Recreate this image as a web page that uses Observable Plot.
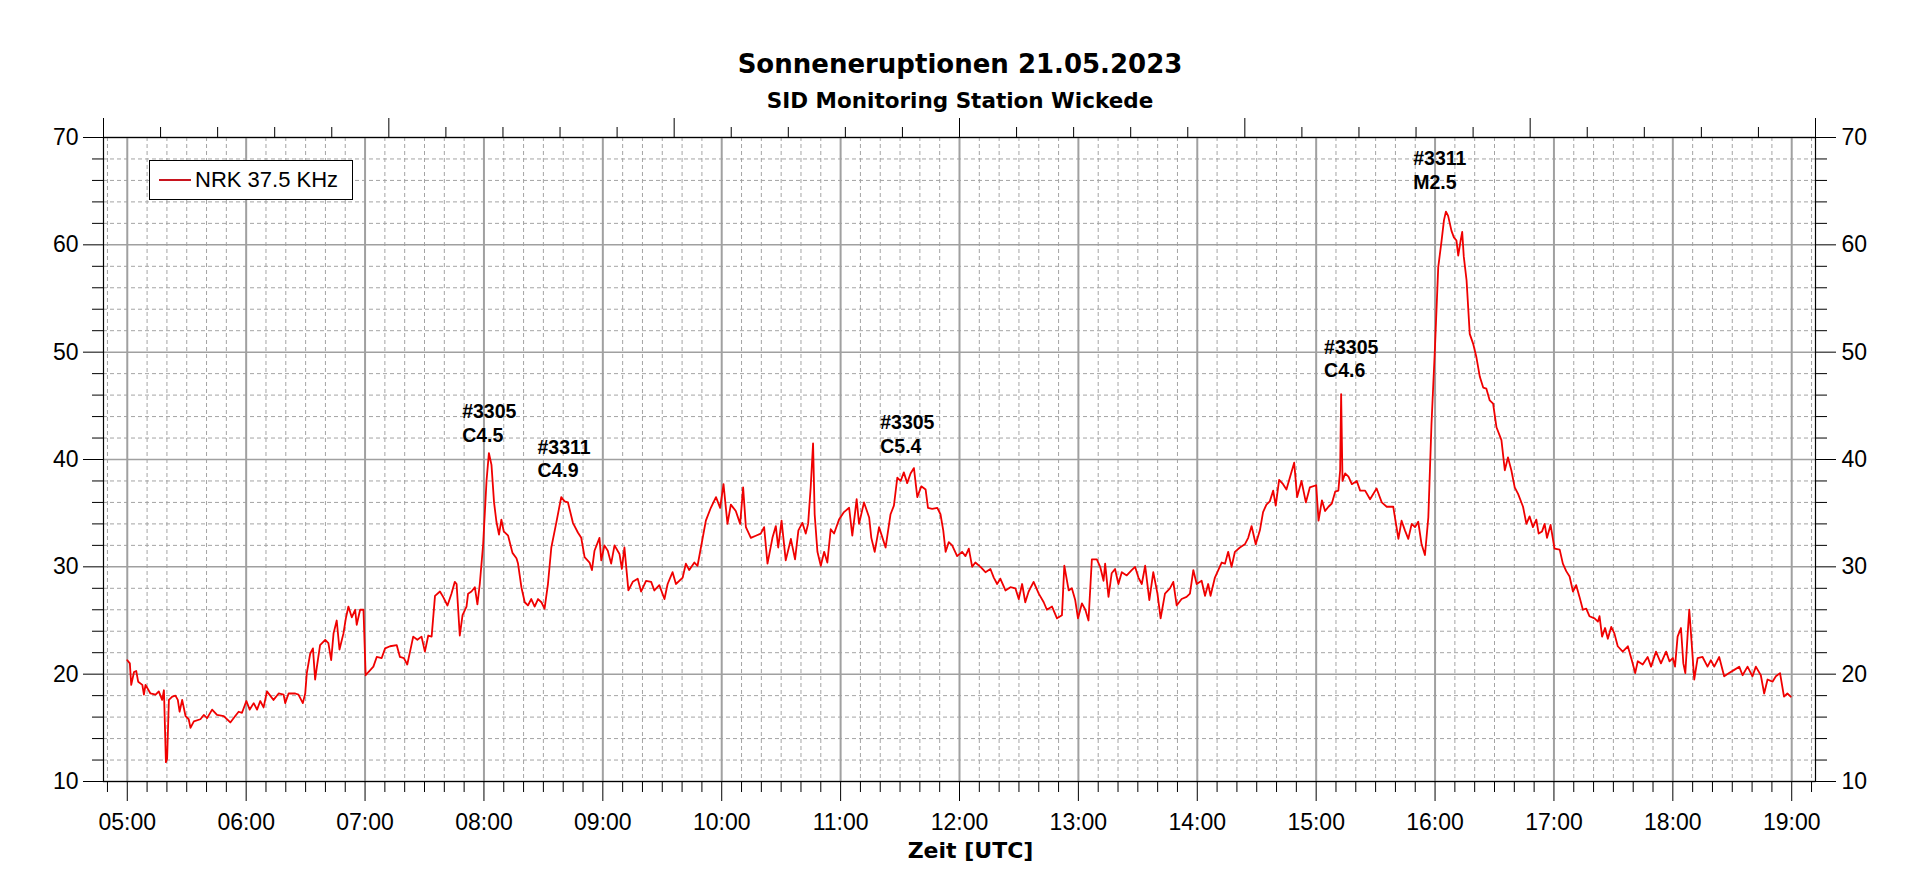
<!DOCTYPE html>
<html>
<head>
<meta charset="utf-8">
<script src="https://cdn.jsdelivr.net/npm/d3@7"></script>
<script src="https://cdn.jsdelivr.net/npm/@observablehq/plot@0.6"></script>
<style>
  html, body { margin: 0; padding: 0; background: #fff; }
  #wrap { position: relative; width: 1920px; background: #fff; }
  #head { height: 115px; box-sizing: border-box; padding-top: 49px; text-align: center; font-family: "DejaVu Sans", sans-serif; font-weight: bold; color: #000; }
  #title { font-size: 26px; line-height: 31px; }
  #subtitle { font-size: 21.5px; line-height: 26px; margin-top: 8px; }
  #legend { position: absolute; left: 149px; top: 160px; width: 204px; height: 40px; box-sizing: border-box;
            border: 1px solid #000; background: #fff; font-family: "Liberation Sans", Arial, sans-serif; font-size: 22px;
            display: flex; align-items: center; }
  #legend .swatch { display: inline-block; width: 32px; height: 2px; background: #c8141e; margin-left: 9px; margin-right: 4px; }
  svg { display: block; }
</style>
</head>
<body>
<div id="wrap">
  <div id="head">
    <div id="title">Sonneneruptionen 21.05.2023</div>
    <div id="subtitle">SID Monitoring Station Wickede</div>
  </div>
  <div id="chart"></div>
  <div id="legend"><span class="swatch"></span><span>NRK 37.5 KHz</span></div>
</div>
<script>
// ---- Data: NRK 37.5 kHz signal, minutes after 05:00 UTC and value ----
const seriesName = "NRK 37.5 KHz";
const minutesAfter0500 = [
  0,1.3,2.0,3.4,4.5,5.5,7.6,8.4,9.2,11.7,14.3,15.9,17.6,18.5,19.5,20.1,21.0,22.7,24.3,25.5,
  26.4,27.7,29.4,31.0,31.9,33.6,36.9,38.6,40.3,42.8,45.3,48.7,52.0,54.5,56.2,57.9,60.1,61.8,63.8,65.5,
  67.1,68.8,70.5,73.8,76.4,78.9,79.7,81.4,84.8,86.4,88.6,89.8,90.6,92.3,93.7,94.8,95.7,97.3,99.9,101.5,
  102.9,104.1,105.7,107.1,109.1,110.3,111.6,113.3,115.0,115.8,117.5,119.2,120.3,121.7,124.2,125.9,128.4,130.1,132.6,136.0,
  137.6,139.6,141.3,142.7,144.3,146.4,148.5,150.2,151.9,153.6,155.3,157.8,159.4,161.6,163.6,165.3,166.2,167.8,169.2,171.2,
  172.0,173.7,175.4,176.7,177.9,179.6,181.3,182.5,183.8,185.1,186.3,187.6,188.8,190.0,192.2,194.4,196.4,197.2,198.9,200.6,
  202.2,203.9,205.6,207.3,209.0,210.6,212.3,214.0,216.5,219.0,220.7,222.4,224.9,227.4,229.1,230.8,233.3,234.5,235.8,238.3,
  239.2,240.8,242.5,244.2,245.9,248.4,249.6,250.9,252.9,255.1,257.6,259.3,261.8,264.4,266.0,268.5,271.1,272.7,275.2,276.9,
  280.3,281.9,283.6,286.2,287.8,289.5,292.0,294.5,297.1,299.2,300.9,302.9,304.6,307.1,309.3,310.8,312.2,314.7,317.2,319.7,
  321.4,323.1,325.6,327.3,328.5,330.2,332.3,334.9,337.0,338.7,340.7,342.4,343.6,344.9,346.1,346.9,348.3,350.0,351.7,353.3,
  355.0,356.7,359.2,361.7,364.3,365.9,368.1,369.3,371.8,374.4,375.5,377.2,379.4,382.7,385.2,386.9,388.6,390.3,391.9,393.6,
  395.3,397.0,398.7,400.7,402.9,404.1,406.2,408.8,410.4,411.8,413.0,414.6,416.3,418.8,421.3,423.0,424.7,426.4,428.0,430.6,
  433.1,435.6,437.3,439.0,440.6,443.2,445.7,448.2,449.9,451.6,453.2,454.9,457.4,460.0,462.5,464.1,466.7,469.2,471.7,472.9,
  475.1,476.7,478.4,479.8,481.8,483.5,485.1,486.8,489.3,491.0,492.7,493.5,495.2,496.8,498.5,500.2,501.9,504.4,506.9,508.6,
  510.3,512.0,513.7,515.8,517.8,519.9,521.5,523.7,526.2,527.9,529.6,532.1,534.6,536.3,538.0,539.7,542.2,543.9,545.5,546.7,
  548.9,550.6,552.3,554.0,555.6,557.3,559.0,561.5,564.0,565.7,567.4,569.5,571.6,573.2,574.9,576.6,578.3,579.6,581.3,583.3,
  585.0,586.7,588.9,590.4,592.6,594.8,596.8,600.0,601.2,602.9,604.5,606.2,607.9,609.6,611.2,612.1,612.6,613.3,614.6,616.3,
  618.0,620.5,622.2,624.7,627.2,630.5,633.1,635.6,638.9,641.5,643.1,644.8,646.5,648.2,649.9,651.5,653.2,654.9,656.6,658.2,
  659.9,661.6,663.3,664.5,665.5,666.6,668.3,669.5,670.8,671.7,672.9,673.7,674.5,675.9,677.5,679.2,680.9,682.6,684.3,685.9,
  687.6,689.3,691.0,693.5,695.2,696.8,698.5,700.2,701.9,704.4,706.1,707.7,709.4,711.1,712.3,714.0,715.3,716.5,718.3,720.3,
  722.9,724.5,726.2,727.9,729.6,731.2,732.9,734.6,736.3,737.9,740.5,742.2,743.0,744.3,745.8,747.2,748.9,750.5,752.2,754.7,
  757.3,759.3,761.0,762.3,764.8,767.3,769.0,771.5,774.0,776.6,778.3,780.0,781.1,782.4,784.1,785.3,786.3,787.5,788.3,789.5,
  790.8,792.5,795.0,797.5,799.2,800.9,803.4,805.9,808.4,811.0,813.5,815.2,817.7,820.2,821.9,824.4,826.1,827.8,830.3,832.0,
  834.1,836.1,837.8,839.5
];
const nrkValues = [
  21.3,21.0,19.0,20.2,20.3,19.3,19.0,18.1,19.0,18.2,18.1,18.4,17.6,18.5,11.8,12.1,17.6,17.9,18.0,17.6,
  16.5,17.6,16.1,15.8,15.0,15.6,15.8,16.2,15.9,16.7,16.2,16.1,15.5,16.1,16.5,16.4,17.5,16.7,17.3,16.7,
  17.5,16.9,18.4,17.6,18.2,18.1,17.3,18.2,18.2,18.1,17.3,18.2,20.1,21.9,22.4,19.5,20.7,22.7,23.2,22.9,
  21.3,23.8,25.0,22.3,23.8,25.2,26.3,25.3,26.0,24.6,26.0,26.0,19.9,20.2,20.7,21.6,21.5,22.4,22.6,22.7,
  21.6,21.5,20.9,22.1,23.5,23.2,23.5,22.1,23.6,23.5,27.3,27.7,27.2,26.4,27.5,28.6,28.4,23.6,25.5,26.3,
  27.5,27.7,28.1,26.5,28.4,32.1,38.0,40.6,39.5,36.0,34.2,33.0,34.4,33.3,32.9,31.3,30.8,30.3,28.1,26.7,
  26.4,27.0,26.3,27.0,26.7,26.1,28.4,31.8,34.1,36.5,36.1,36.0,34.1,33.2,32.7,30.9,30.4,29.7,31.5,32.7,
  30.6,32.0,31.5,30.3,32.0,31.2,29.8,31.8,27.8,28.6,28.9,27.7,28.7,28.6,27.8,28.3,27.0,28.4,29.5,28.4,
  29.0,30.3,29.7,30.4,30.1,31.8,34.3,35.5,36.5,35.5,37.7,34.0,35.8,35.2,34.0,37.4,33.7,32.7,32.9,33.1,
  33.7,30.3,32.7,33.8,31.8,34.3,30.6,32.6,30.7,33.4,34.1,33.1,34.0,37.4,41.5,34.9,31.4,30.1,31.4,30.4,
  33.5,33.1,34.4,35.1,35.5,32.9,36.3,34.0,36.0,34.6,32.7,31.4,33.7,31.8,34.9,35.7,38.3,38.0,38.8,37.8,
  38.7,39.2,36.5,37.5,37.2,35.5,35.4,35.5,34.9,33.4,31.4,32.3,32.0,31.0,31.4,31.0,31.7,30.0,30.4,30.0,
  29.5,29.8,29.0,28.4,28.9,27.8,28.1,28.0,27.0,28.4,26.7,27.7,28.6,27.5,26.7,26.0,26.3,25.2,25.5,30.1,
  27.8,28.0,26.9,25.2,26.6,26.0,25.0,30.7,30.7,30.0,28.7,30.3,27.2,29.4,29.8,28.4,29.5,29.2,29.7,30.0,
  29.0,28.4,30.1,26.9,29.5,27.5,25.2,27.5,28.0,28.6,26.4,27.0,27.2,27.5,29.7,28.4,28.7,27.3,28.4,27.3,
  29.0,29.7,30.4,30.3,31.4,30.0,31.4,31.8,32.1,32.7,33.8,32.1,33.4,35.1,35.8,36.1,37.1,35.7,38.1,37.7,
  37.2,38.3,39.7,36.5,38.0,36.0,37.4,37.6,34.3,36.2,35.2,35.6,35.9,37.0,37.1,39.0,46.1,38.0,38.7,38.4,
  37.7,38.0,37.1,37.1,36.3,37.3,36.0,35.6,35.6,32.6,34.3,33.4,32.6,34.0,33.7,34.2,32.1,31.1,34.6,43.3,
  50.2,57.9,60.4,62.3,63.1,62.7,61.3,60.7,60.4,59.0,60.4,61.2,58.9,56.7,51.7,50.8,49.5,47.7,46.7,46.6,
  45.5,45.2,43.0,41.8,39.0,40.2,39.0,37.4,36.8,35.6,34.0,34.7,33.7,34.4,33.1,33.3,34.0,32.7,33.9,31.7,
  31.6,30.3,29.6,29.1,27.7,28.3,27.2,26.0,26.1,25.4,25.2,24.9,25.4,23.5,24.3,23.3,24.4,23.8,22.6,22.1,
  22.6,21.3,20.1,21.2,20.9,21.6,20.7,22.1,21.0,22.1,21.2,21.5,20.7,23.5,24.3,21.0,20.1,23.8,26.0,22.9,
  19.5,21.5,21.6,20.7,21.3,20.7,21.6,19.8,20.1,20.4,20.7,19.9,20.7,19.8,20.7,19.9,18.2,19.5,19.3,19.8,
  20.1,17.9,18.2,17.9
];

// ---- Flare annotations (label position: time, value of the first line's top) ----
const flareTimes   = ["07:49", "08:27", "11:20", "15:04", "15:49"];
const flareLabelY  = [45.4, 42.1, 44.4, 51.4, 69.0];
const flareRegions = ["#3305", "#3311", "#3305", "#3305", "#3311"];
const flareClasses = ["C4.5", "C4.9", "C5.4", "C4.6", "M2.5"];

// ---- Axis settings ----
const hourLabels = ["05:00","06:00","07:00","08:00","09:00","10:00","11:00","12:00","13:00","14:00","15:00","16:00","17:00","18:00","19:00"];
const yMajor = [10, 20, 30, 40, 50, 60, 70];
const xStart = "04:48", xEnd = "19:12";
const xLabel = "Zeit [UTC]";

// ---- Build ----
const at = (hhmm) => { const [h, m] = hhmm.split(":").map(Number); return new Date(Date.UTC(2023, 4, 21, h, m)); };
const base = at("05:00");
const data = minutesAfter0500.map((m, i) => ({ time: new Date(+base + m * 60000), value: nrkValues[i] }));
const flares = flareTimes.map((t, i) => ({ time: at(t), y: flareLabelY[i], label: flareRegions[i] + "\n" + flareClasses[i] }));

const x0 = at(xStart), x1 = at(xEnd);
const hourTicks = hourLabels.map(at);
const tenMin = d3.utcMinute.every(10).range(at("04:50"), new Date(+at("19:10") + 1)).filter(d => d.getUTCMinutes() !== 0);
const yMinor = d3.range(12, 70, 2).filter(v => v % 10 !== 0);
const topStep = (x1 - x0) / 30;
const topTicks = d3.range(0, 31).map(i => new Date(+x0 + i * topStep));
const topMajor = topTicks.filter((d, i) => i % 5 === 0);
const topMinor = topTicks.filter((d, i) => i % 5 !== 0);
const blank = () => "";

const chart = Plot.plot({
  width: 1920,
  height: 764,
  marginTop: 22,
  marginBottom: 98,
  marginLeft: 103,
  marginRight: 105,
  x: { type: "utc", domain: [x0, x1] },
  y: { domain: [10, 70] },
  style: { fontFamily: "'Liberation Sans', Arial, sans-serif", fontSize: "23px", color: "#000", background: "#fff", overflow: "visible" },
  marks: [
    Plot.ruleX(tenMin, { stroke: "#a4a4a4", strokeWidth: 1, strokeDasharray: "4,3" }),
    Plot.ruleY(yMinor, { stroke: "#a4a4a4", strokeWidth: 1, strokeDasharray: "4,3" }),
    Plot.ruleX(hourTicks, { stroke: "#a0a0a0", strokeWidth: 2 }),
    Plot.ruleY(yMajor, { stroke: "#a0a0a0", strokeWidth: 1.5 }),
    Plot.line(data, { x: "time", y: "value", stroke: "#f00000", strokeWidth: 1.8 }),
    Plot.text(flares, { x: "time", y: "y", text: "label", textAnchor: "start", lineAnchor: "top", lineHeight: 1.21,
                        fontWeight: "bold", fontSize: 19.5, fontFamily: "'Liberation Sans', Arial, sans-serif", fill: "#000" }),
    Plot.frame({ stroke: "#000", strokeWidth: 1.2 }),
    Plot.axisX({ anchor: "bottom", ticks: hourTicks, tickSize: 20, tickPadding: 12, tickFormat: d3.utcFormat("%H:%M"), label: null }),
    Plot.axisX({ anchor: "bottom", ticks: tenMin, tickSize: 11, tickFormat: blank, label: null }),
    Plot.axisX({ anchor: "top", ticks: topMajor, tickSize: 20, tickFormat: blank, label: null }),
    Plot.axisX({ anchor: "top", ticks: topMinor, tickSize: 11, tickFormat: blank, label: null }),
    Plot.axisY({ anchor: "left", ticks: yMajor, tickSize: 20, tickPadding: 5, label: null }),
    Plot.axisY({ anchor: "left", ticks: yMinor, tickSize: 11, tickFormat: blank, label: null }),
    Plot.axisY({ anchor: "right", ticks: yMajor, tickSize: 20, tickPadding: 6, label: null }),
    Plot.axisY({ anchor: "right", ticks: yMinor, tickSize: 11, tickFormat: blank, label: null }),
    Plot.text([xLabel], { frameAnchor: "bottom", dx: 11, dy: 76, fontWeight: "bold", fontSize: 22, fontFamily: "'DejaVu Sans', sans-serif", fill: "#000" })
  ]
});
document.getElementById("chart").appendChild(chart);
</script>
</body>
</html>
